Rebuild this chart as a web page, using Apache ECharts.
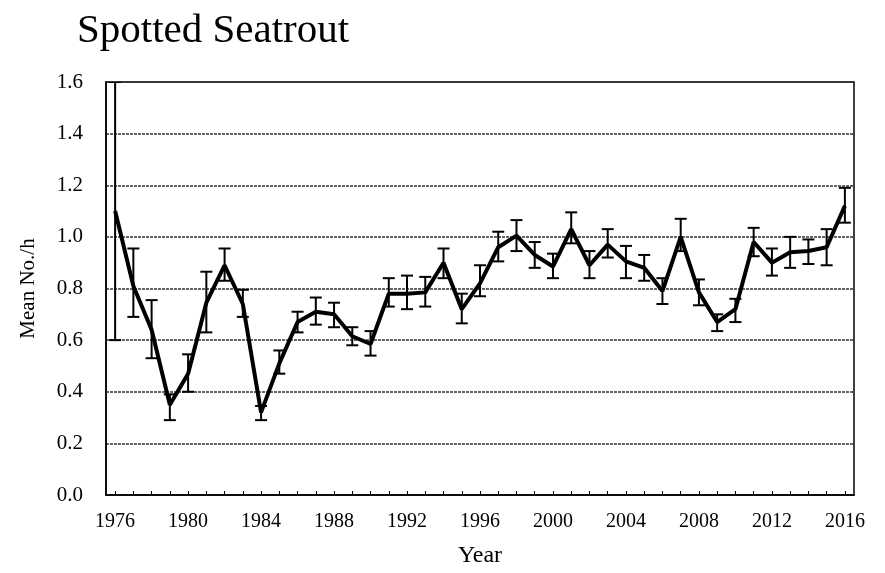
<!DOCTYPE html>
<html>
<head>
<meta charset="utf-8">
<script src="https://cdn.jsdelivr.net/npm/echarts@6/dist/echarts.min.js"></script>
<style>
  html, body { margin: 0; padding: 0; background: #fff; }
  #main { width: 885px; height: 573px; }
</style>
</head>
<body>
<div id="main"></div>
<script>
// yearly mean catch rate, with the low / high ends of each error bar
var years = ['1976', '1977', '1978', '1979', '1980', '1981', '1982', '1983', '1984', '1985',
  '1986', '1987', '1988', '1989', '1990', '1991', '1992', '1993', '1994', '1995',
  '1996', '1997', '1998', '1999', '2000', '2001', '2002', '2003', '2004', '2005',
  '2006', '2007', '2008', '2009', '2010', '2011', '2012', '2013', '2014', '2015', '2016'];
var means = [1.10, 0.81, 0.64, 0.35, 0.47, 0.745, 0.89, 0.74, 0.32, 0.51,
  0.67, 0.71, 0.70, 0.615, 0.585, 0.78, 0.78, 0.785, 0.90, 0.72,
  0.82, 0.96, 1.005, 0.93, 0.885, 1.03, 0.89, 0.97, 0.905, 0.88,
  0.79, 1.00, 0.785, 0.67, 0.72, 0.98, 0.90, 0.94, 0.945, 0.96, 1.12];
var lows = [0.60, 0.69, 0.53, 0.29, 0.40, 0.63, 0.83, 0.69, 0.29, 0.47,
  0.63, 0.66, 0.65, 0.58, 0.54, 0.73, 0.72, 0.73, 0.84, 0.665,
  0.77, 0.905, 0.945, 0.88, 0.84, 0.975, 0.84, 0.92, 0.84, 0.83,
  0.74, 0.945, 0.735, 0.635, 0.67, 0.925, 0.85, 0.88, 0.895, 0.89, 1.055];
var highs = [1.60, 0.955, 0.755, 0.39, 0.545, 0.865, 0.955, 0.795, 0.345, 0.56,
  0.71, 0.765, 0.745, 0.65, 0.635, 0.84, 0.85, 0.845, 0.955, 0.78,
  0.89, 1.02, 1.065, 0.98, 0.935, 1.095, 0.945, 1.03, 0.965, 0.93,
  0.84, 1.07, 0.835, 0.70, 0.76, 1.035, 0.955, 1.00, 0.99, 1.03, 1.19];
var yTicks = [0, 0.2, 0.4, 0.6, 0.8, 1.0, 1.2, 1.4, 1.6];

var serif = 'Liberation Serif';
var errData = years.map(function (y, i) { return [i, lows[i], highs[i]]; });

var chart = echarts.init(document.getElementById('main'));
chart.setOption({
  animation: false,
  backgroundColor: '#fff',
  title: {
    text: 'Spotted Seatrout',
    left: 72,
    top: 6,
    textStyle: { fontFamily: serif, fontSize: 41, fontWeight: 'normal', color: '#000' }
  },
  grid: {
    left: 106, right: 31, top: 82, bottom: 77,
    show: true, borderColor: '#000', borderWidth: 1.5, backgroundColor: 'transparent'
  },
  xAxis: {
    type: 'category',
    data: years,
    boundaryGap: true,
    name: 'Year',
    nameLocation: 'middle',
    nameGap: 49,
    nameTextStyle: { fontFamily: serif, fontSize: 24, color: '#000' },
    axisLine: { lineStyle: { color: '#000', width: 1.5 } },
    axisTick: { show: true, inside: true, alignWithLabel: true, interval: 0, length: 4, lineStyle: { color: '#000' } },
    axisLabel: {
      interval: 3, margin: 17,
      fontFamily: serif, fontSize: 20, color: '#000'
    },
    splitLine: { show: false }
  },
  yAxis: {
    type: 'value',
    min: 0,
    max: 1.6,
    interval: 0.2,
    name: 'Mean No./h',
    nameLocation: 'middle',
    nameGap: 67,
    nameTextStyle: { fontFamily: serif, fontSize: 21, color: '#000' },
    axisLine: { show: true, lineStyle: { color: '#000', width: 1.5 } },
    axisTick: { show: false },
    axisLabel: {
      margin: 23,
      fontFamily: serif, fontSize: 21, color: '#000',
      formatter: function (v) {
        var t = yTicks.filter(function (k) { return Math.abs(k - v) < 1e-6; });
        return t.length ? t[0].toFixed(1) : '';
      }
    },
    splitLine: { show: true, lineStyle: { color: '#333', width: 1.5, type: [3, 1] } }
  },
  series: [
    {
      name: 'Mean',
      type: 'line',
      data: means,
      showSymbol: false,
      symbol: 'none',
      lineStyle: { color: '#000', width: 4 },
      itemStyle: { color: '#000' },
      z: 3
    },
    {
      name: 'Error',
      type: 'custom',
      data: errData,
      clip: true,
      z: 4,
      renderItem: function (params, api) {
        var x = api.value(0);
        var lo = api.coord([x, api.value(1)]);
        var hi = api.coord([x, api.value(2)]);
        var w = 6;
        var st = { stroke: '#000', lineWidth: 2 };
        return {
          type: 'group',
          children: [
            { type: 'line', shape: { x1: lo[0], y1: lo[1], x2: hi[0], y2: hi[1] }, style: st },
            { type: 'line', shape: { x1: lo[0] - w, y1: lo[1], x2: lo[0] + w, y2: lo[1] }, style: st },
            { type: 'line', shape: { x1: hi[0] - w, y1: hi[1], x2: hi[0] + w, y2: hi[1] }, style: st }
          ]
        };
      }
    }
  ]
});
</script>
</body>
</html>
